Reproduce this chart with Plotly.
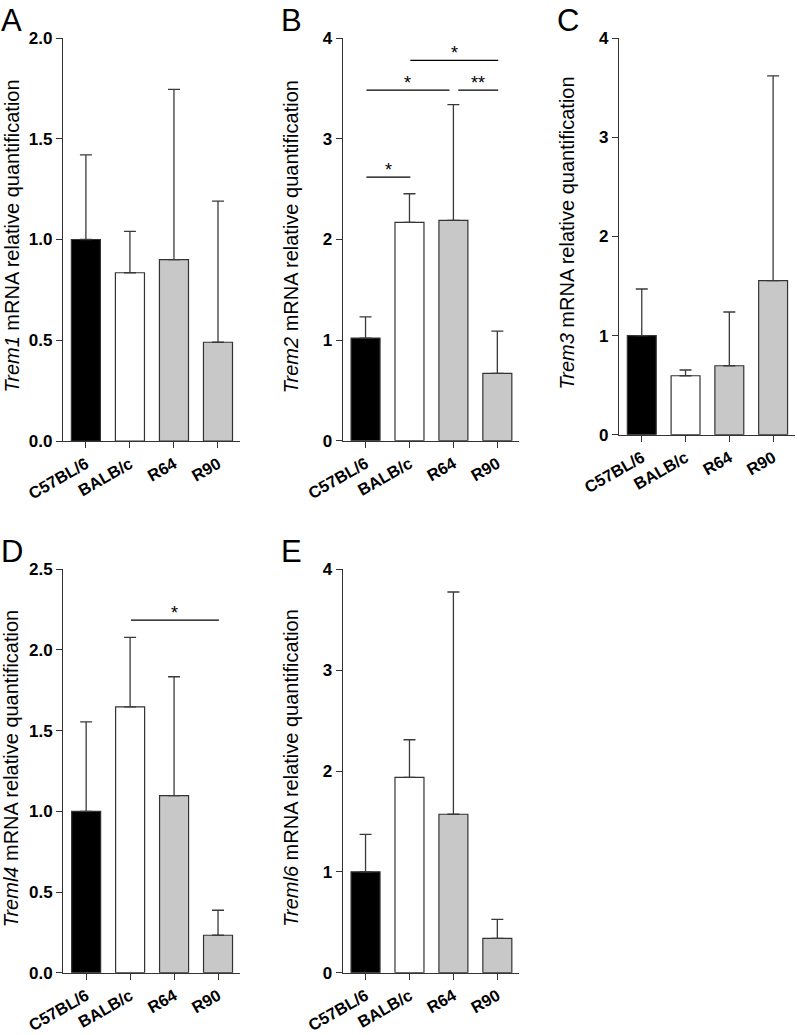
import plotly.graph_objects as go

groups = ["C57BL/6", "BALB/c", "R64", "R90"]
bar_colors = ["#000000", "#ffffff", "#c8c8c8", "#c8c8c8"]

# mean and SD (upper error)
trem1_mean = [1.00, 0.835, 0.90, 0.49]
trem1_sd = [0.42, 0.205, 0.845, 0.70]
trem2_mean = [1.02, 2.17, 2.19, 0.67]
trem2_sd = [0.21, 0.285, 1.15, 0.42]
trem3_mean = [1.00, 0.595, 0.696, 1.554]
trem3_sd = [0.47, 0.058, 0.542, 2.066]
treml4_mean = [1.00, 1.648, 1.097, 0.232]
treml4_sd = [0.555, 0.43, 0.737, 0.155]
treml6_mean = [1.00, 1.937, 1.571, 0.341]
treml6_sd = [0.372, 0.373, 2.204, 0.188]

# significance bars: (group i, group j, height, label)
trem2_sig = [(0, 1, 2.62, "*"), (0, 2, 3.485, "*"), (2, 3, 3.485, "**"), (1, 3, 3.78, "*")]
treml4_sig = [(1, 3, 2.185, "*")]

W, H = 797, 1035
FONT = "Arial, Liberation Sans, sans-serif"

# panel: letter, gene, means, sds, sig, yrange, dtick, fmt, pixel box (left, right, top, bottom)
panels = [
    ("A", "Trem1", trem1_mean, trem1_sd, [], 2.0, 0.5, ".1f", (63, 240, 38, 441)),
    ("B", "Trem2", trem2_mean, trem2_sd, trem2_sig, 4, 1, "d", (342.7, 519.3, 38.3, 440.7)),
    ("C", "Trem3", trem3_mean, trem3_sd, [], 4, 1, "d", (619, 795, 38.3, 434.7)),
    ("D", "Treml4", treml4_mean, treml4_sd, treml4_sig, 2.5, 0.5, ".1f", (63.3, 240, 569.3, 972.7)),
    ("E", "Treml6", treml6_mean, treml6_sd, [], 4, 1, "d", (342.7, 519.3, 569.3, 972.7)),
]

fig = go.Figure()
layout = {}
shapes = []
annos = []

for k, (letter, gene, mean, sd, sig, ymax, dtick, fmt, box) in enumerate(panels):
    n = "" if k == 0 else str(k + 1)
    left, right, top, bottom = box
    fig.add_trace(go.Bar(
        x=groups, y=mean,
        xaxis="x" + n, yaxis="y" + n,
        width=0.66,
        marker=dict(color=bar_colors, line=dict(color="#333333", width=1.2)),
        error_y=dict(type="data", symmetric=False, array=sd,
                     arrayminus=[0] * len(sd),
                     color="#3a3a3a", thickness=1.3, width=6),
        showlegend=False,
    ))
    layout["xaxis" + n] = dict(
        domain=[left / W, right / W], anchor="y" + n, automargin=False,
        range=[-0.52, 3.5], showline=True, linecolor="#333333", linewidth=1.3,
        ticks="outside", ticklen=6, tickcolor="#333333", tickwidth=1.3,
        tickangle=-30, showgrid=False, zeroline=False,
        tickfont=dict(family=FONT, size=16.5, color="black", weight="bold"),
    )
    layout["yaxis" + n] = dict(
        domain=[1 - bottom / H, 1 - top / H], anchor="x" + n, automargin=False,
        range=[0, ymax], dtick=dtick, tick0=0, tickformat=fmt,
        showline=True, linecolor="#333333", linewidth=1.3,
        ticks="outside", ticklen=6, tickcolor="#333333", tickwidth=1.3,
        showgrid=False, zeroline=False,
        tickfont=dict(family=FONT, size=17, color="black", weight="bold"),
    )
    # y title
    annos.append(dict(
        text="<i>%s</i> mRNA relative quantification" % gene,
        xref="paper", yref="paper",
        x=(left - 52) / W, y=1 - ((top + bottom) / 2 - 3) / H,
        xanchor="center", yanchor="middle", textangle=-90, showarrow=False,
        font=dict(family=FONT, size=20, color="black"),
    ))
    # panel letter
    annos.append(dict(
        text=letter, xref="paper", yref="paper",
        x=(left - 64) / W, y=1 - (top - 37) / H,
        xanchor="left", yanchor="top", showarrow=False,
        font=dict(family=FONT, size=31, color="black"),
    ))
    # significance lines
    for i, j, h, lab in sig:
        x0, x1 = i + 0.02, j + 0.02
        for i2, j2, h2, _ in sig:
            if h2 == h and j2 == i:
                x0 = i + 0.11
            if h2 == h and i2 == j:
                x1 = j - 0.09
        shapes.append(dict(type="line", xref="x" + n, yref="y" + n,
                           x0=x0, x1=x1, y0=h, y1=h,
                           line=dict(color="black", width=1.2)))
        annos.append(dict(
            text=lab, xref="x" + n, yref="y" + n,
            x=(x0 + x1) / 2, y=h, xanchor="center", yanchor="bottom",
            yshift=-5, showarrow=False,
            font=dict(family=FONT, size=18, color="black"),
        ))

fig.update_layout(
    width=W, height=H,
    margin=dict(l=0, r=0, t=0, b=0, autoexpand=False),
    paper_bgcolor="white", plot_bgcolor="white",
    shapes=shapes, annotations=annos,
    **layout,
)

fig.write_html("out.html", config={"displayModeBar": False},
               post_script="document.body.style.margin='0';")
